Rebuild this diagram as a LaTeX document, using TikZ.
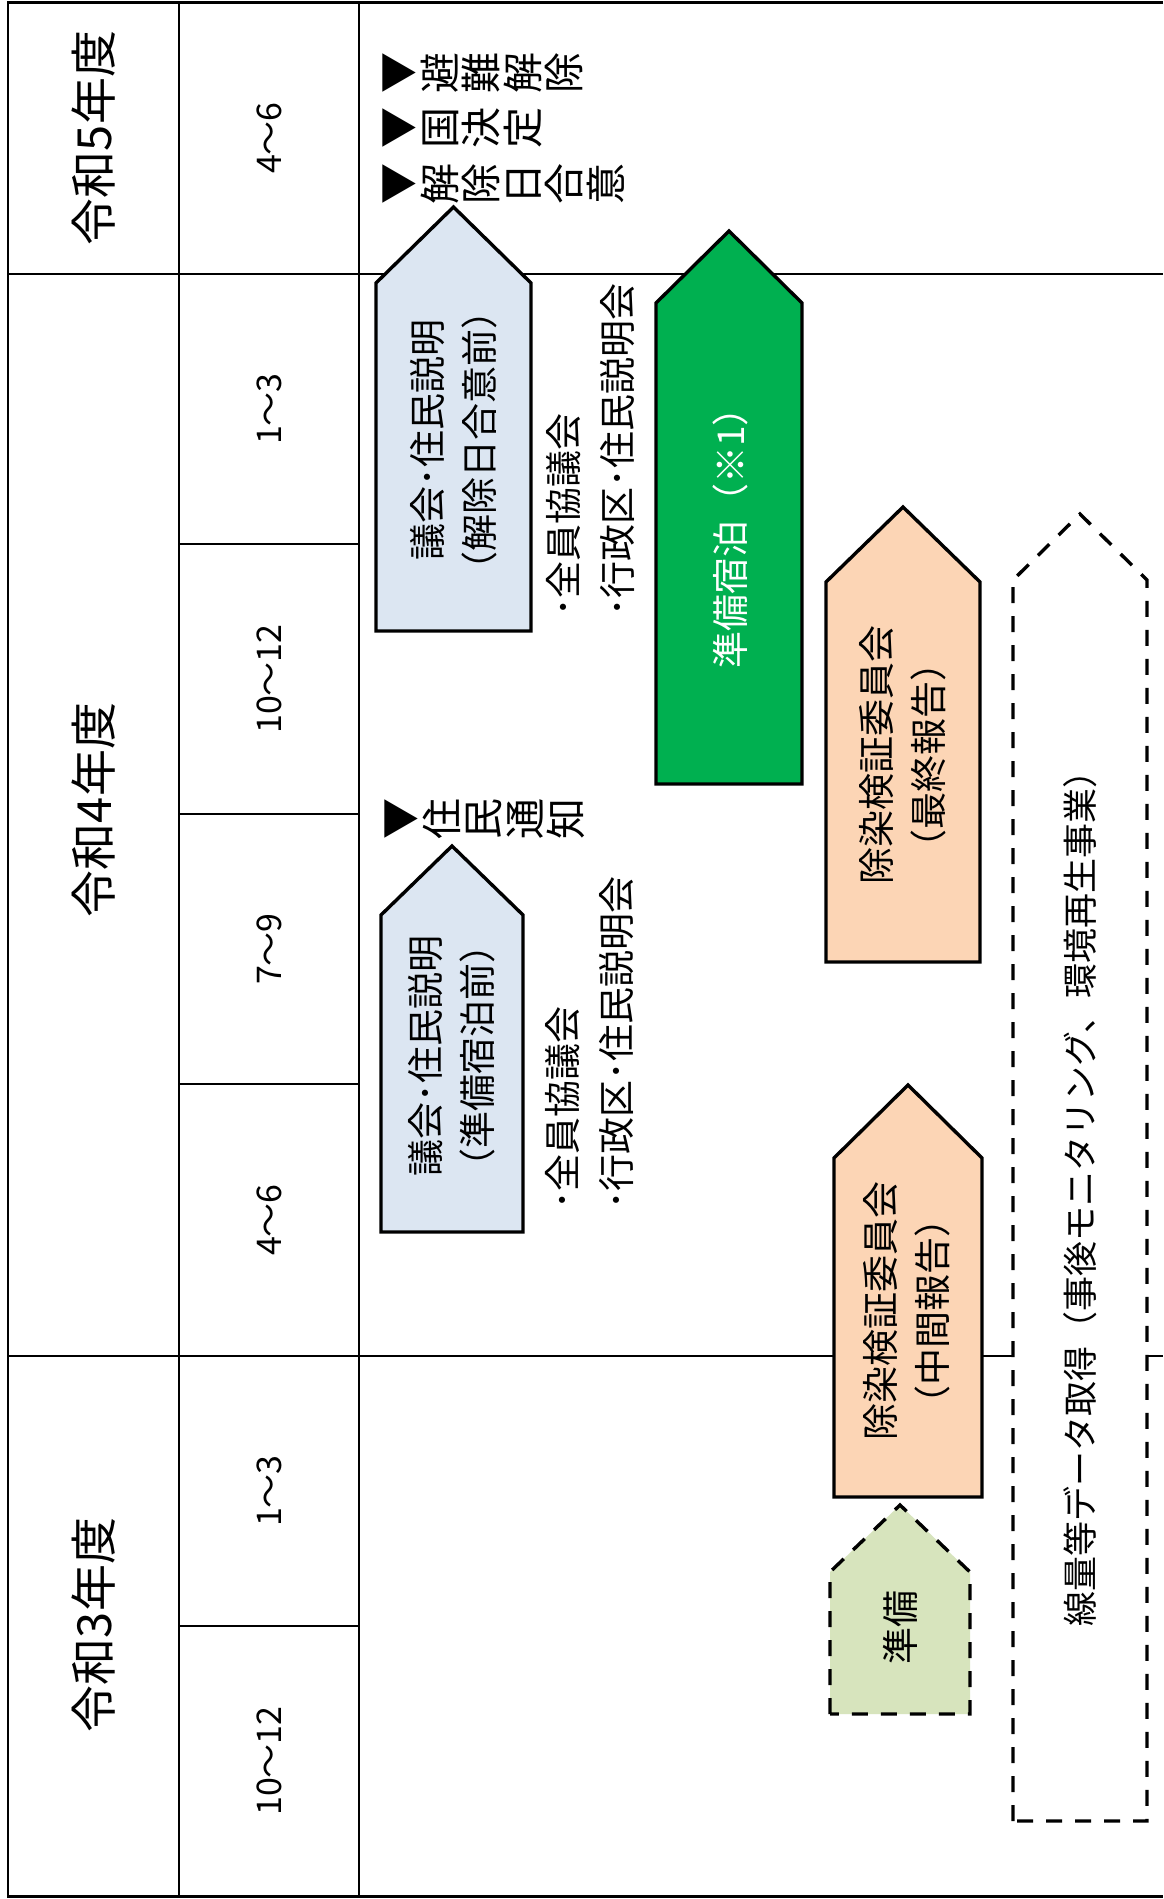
\documentclass[tikz,border=0pt]{standalone}
\usepackage{fontspec}
\setmainfont{Noto Sans CJK JP}
\definecolor{boxblue}{HTML}{DCE6F2}
\definecolor{boxpeach}{HTML}{FCD5B5}
\definecolor{boxlgreen}{HTML}{D7E4BD}
\definecolor{boxgreen}{HTML}{00B050}
\newcommand{\homeplate}[6]{%
  \draw[#1] (#2,#6) -- (#2,#5) -- ({(#2+#3)/2},#4) -- (#3,#5) -- (#3,#6) -- cycle;}
\begin{document}
\begin{tikzpicture}[x=1pt,y=-1pt,
  gridline/.style={line width=2.8pt},
  subline/.style={line width=1.4pt},
  solidplate/.style={draw=black,line width=3.4pt,line join=miter},
  dashplate/.style={draw=black,line width=3.4pt,dash pattern=on 16pt off 13pt},
  yearlbl/.style={rotate=90,inner sep=0pt,font=\fontsize{47}{50}\selectfont},
  qlbl/.style={rotate=90,inner sep=0pt,font=\fontsize{34}{36}\selectfont},
  boxtxt/.style={rotate=90,inner sep=0pt,align=center,font=\fontsize{37}{52}\selectfont},
  sidelbl/.style={rotate=90,inner sep=0pt,align=left,anchor=west,font=\fontsize{37}{54}\selectfont},
  tate/.style={rotate=90,inner sep=0pt,align=center,anchor=north,font=\fontsize{41}{41.5}\selectfont}]
\useasboundingbox (0,0) rectangle (1163,1899);
\fill[white] (0,0) rectangle (1163,1899);
% table
\draw[gridline] (1163,2.5) -- (8,2.5) -- (8,1896.5) -- (1163,1896.5);
\draw[gridline] (179,2.5) -- (179,1896.5);
\draw[gridline] (359,2.5) -- (359,1896.5);
\draw[gridline] (8,274) -- (1163,274);
\draw[gridline] (8,1356) -- (1163,1356);
\draw[subline] (179,544) -- (359,544);
\draw[subline] (179,814) -- (359,814);
\draw[subline] (179,1084) -- (359,1084);
\draw[subline] (179,1626) -- (359,1626);
% year and quarter labels
\node[yearlbl] (y5) at (94,138) {令和5年度};
\node[yearlbl] (y4) at (94,810) {令和4年度};
\node[yearlbl] (y3) at (94,1625) {令和3年度};
\node[qlbl] (q1) at (269,138) {4～6};
\node[qlbl] (q2) at (269,409) {1～3};
\node[qlbl] (q3) at (269,679) {10～12};
\node[qlbl] (q4) at (269,949) {7～9};
\node[qlbl] (q5) at (269,1220) {4～6};
\node[qlbl] (q6) at (269,1491) {1～3};
\node[qlbl] (q7) at (269,1761) {10～12};
% shapes
\homeplate{solidplate,fill=boxblue}{376}{531}{207}{283}{631}
\homeplate{solidplate,fill=boxblue}{381}{523}{846}{915}{1232}
\homeplate{solidplate,fill=boxgreen}{656}{802}{231}{303}{784}
\homeplate{solidplate,fill=boxpeach}{826}{980}{507}{582}{962}
\homeplate{solidplate,fill=boxpeach}{834}{982}{1085}{1158}{1497}
\homeplate{dashplate,fill=boxlgreen}{830}{970}{1505}{1572}{1714}
\homeplate{dashplate,fill=white}{1013}{1147}{514}{580}{1821}
% texts in shapes
\node[boxtxt] (tA) at (454,440) {議会･住民説明\\（解除日合意前）};
\node[boxtxt] (tB) at (452,1056) {議会･住民説明\\（準備宿泊前）};
\node[boxtxt,text=white] (tC) at (730,529) {準備宿泊（※1）};
\node[boxtxt] (tD) at (903,755) {除染検証委員会\\（最終報告）};
\node[boxtxt] (tE) at (907,1311) {除染検証委員会\\（中間報告）};
\node[boxtxt] (tF) at (900,1627) {準備};
\node[boxtxt,font=\fontsize{35}{40}\selectfont] (tG) at (1080,1190) {線量等データ取得（事後モニタリング、環境再生事業）};
% side labels
\node[sidelbl] (lA) at (591,617) {･全員協議会\\･行政区･住民説明会};
\node[sidelbl] (lB) at (590,1210) {･全員協議会\\･行政区･住民説明会};
% milestones
\node[tate] (m1) at (383,73) {▼\\避\\難\\解\\除};
\node[tate] (m2) at (383,128) {▼\\国\\決\\定};
\node[tate] (m3) at (383,184) {▼\\解\\除\\日\\合\\意};
\node[tate] (m4) at (385,819) {▼\\住\\民\\通\\知};
\end{tikzpicture}
\end{document}
